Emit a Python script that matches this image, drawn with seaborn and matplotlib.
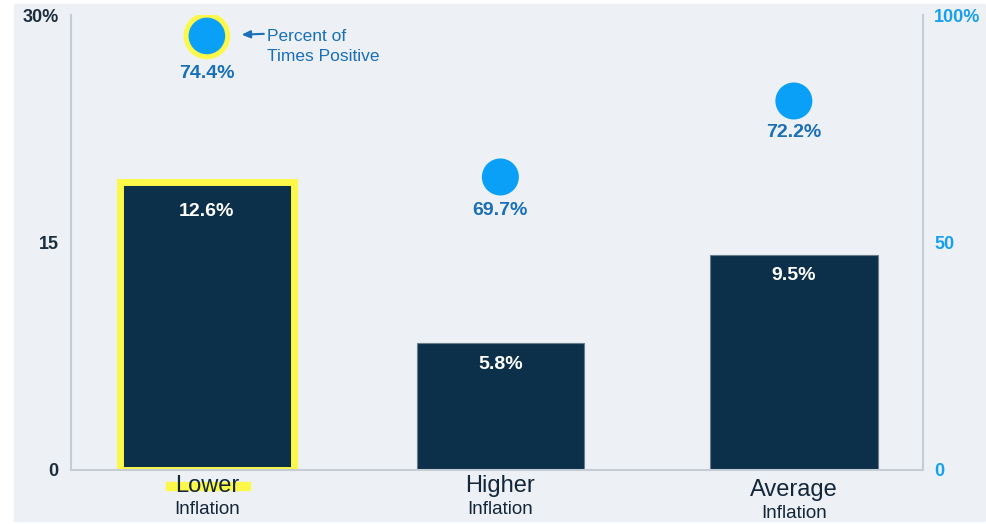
import numpy as np
import pandas as pd
import matplotlib
matplotlib.use("Agg")
import matplotlib.pyplot as plt
from matplotlib.patches import Rectangle
import seaborn as sns

# Data
categories = ["Lower", "Higher", "Average"]
sub_labels = ["Inflation", "Inflation", "Inflation"]
bar_heights = [19.0, 8.4, 14.2]          # left axis, as drawn
bar_labels = ["12.6%", "5.8%", "9.5%"]
pct_positive = [95.4, 64.4, 81.1]        # right axis, as drawn
pct_labels = ["74.4%", "69.7%", "72.2%"]
left_ticks = [0, 15, 30]
left_ticklabels = ["0", "15", "30%"]
right_ticks = [0, 50, 100]
right_ticklabels = ["0", "50", "100%"]

# Colours
BG = "#edf1f5"
NAVY = "#0c2f4a"
DOT = "#0aa0f8"
DOT_TXT = "#1a6fb8"
RIGHT_TXT = "#18a0f0"
LEFT_TXT = "#1c2d3d"
YELLOW = "#fbf84a"
SPINE = "#c5ccd3"

sns.set_style("white")
plt.rcParams["font.family"] = ["Liberation Sans", "DejaVu Sans"]

fig = plt.figure(figsize=(9.87, 5.24), dpi=100)
fig.patch.set_facecolor("white")
fig.patches.append(Rectangle((14 / 987, 3 / 524), 971 / 987, 517 / 524,
                             transform=fig.transFigure, color=BG, zorder=-10))

ax = fig.add_axes([71 / 987, 1 - 470 / 524, 852 / 987, 455 / 524])
ax.set_facecolor("none")

df = pd.DataFrame({"cat": categories, "height": bar_heights})
sns.barplot(data=df, x="cat", y="height", color=NAVY, saturation=1,
            width=0.57, edgecolor="#6b7c8c", linewidth=0.8, ax=ax)

# yellow highlight on the first bar
p = ax.patches[0]
p.set_x(-0.2965)
p.set_width(0.593)
p.set_edgecolor(YELLOW)
p.set_linewidth(5)

ax.set_xlim(-0.463, 2.44)
ax.set_ylim(0, 30)
ax.set_yticks(left_ticks)
ax.set_yticklabels(left_ticklabels)
ax.set_xticks([])
ax.set_xlabel("")
ax.set_ylabel("")
ax.tick_params(axis="y", length=0, pad=9, labelsize=13, labelcolor=LEFT_TXT)
for t in ax.get_yticklabels():
    t.set_fontweight("bold")
for s in ["top", "right"]:
    ax.spines[s].set_visible(False)
for s in ["left", "bottom"]:
    ax.spines[s].set_color(SPINE)
    ax.spines[s].set_linewidth(1.5)

label_offsets = [-21, -16, -15]
for i, (h, lab) in enumerate(zip(bar_heights, bar_labels)):
    ax.annotate(lab, (i, h), xytext=(0, label_offsets[i]),
                textcoords="offset points", ha="center", va="center",
                color="white", fontsize=14, fontweight="bold")

# category labels under the axis
xtrans = ax.get_xaxis_transform()
ax.add_patch(Rectangle((-0.14, -0.044), 0.287, 0.018, transform=xtrans,
                       color=YELLOW, clip_on=False, zorder=1))
cat_y = [-0.035, -0.035, -0.044]
sub_y = [-0.086, -0.086, -0.095]
for i, (c, s) in enumerate(zip(categories, sub_labels)):
    ax.text(i, cat_y[i], c, transform=xtrans, ha="center", va="center",
            fontsize=17, color="#13263a", zorder=2)
    ax.text(i, sub_y[i], s, transform=xtrans, ha="center", va="center",
            fontsize=13.5, color="#13263a")

# right axis with the dots
ax2 = ax.twinx()
ax2.set_ylim(0, 100)
dots = pd.DataFrame({"x": np.arange(len(categories)), "y": pct_positive})
sns.scatterplot(data=dots, x="x", y="y", color=DOT, s=710, linewidth=0,
                ax=ax2, zorder=5, legend=False)
coll = ax2.collections[0]
coll.set_sizes([900, 710, 710])
coll.set_edgecolors([YELLOW, DOT, DOT])
coll.set_linewidths([3.6, 0, 0])

dot_offsets = [-27, -24, -23]
for i, (v, lab) in enumerate(zip(pct_positive, pct_labels)):
    ax2.annotate(lab, (i, v), xytext=(0, dot_offsets[i]),
                 textcoords="offset points", ha="center", va="center",
                 color=DOT_TXT, fontsize=14, fontweight="bold")

ax2.annotate("", xy=(0, pct_positive[0]), xytext=(41, 1.5),
             textcoords="offset points",
             arrowprops=dict(arrowstyle="-|>,head_length=0.5,head_width=0.22",
                             color=DOT_TXT, lw=1.5, shrinkA=0, shrinkB=25))
ax2.annotate("Percent of\nTimes Positive", (0, pct_positive[0]),
             xytext=(43, 5), textcoords="offset points", ha="left", va="top",
             color=DOT_TXT, fontsize=12.5, linespacing=1.45)

ax2.set_xlim(-0.463, 2.44)
ax2.set_yticks(right_ticks)
ax2.set_yticklabels(right_ticklabels)
ax2.set_xlabel("")
ax2.set_ylabel("")
ax2.tick_params(axis="y", length=0, pad=8, labelsize=13, labelcolor=RIGHT_TXT)
for t in ax2.get_yticklabels():
    t.set_fontweight("bold")
for s in ["top", "left", "bottom"]:
    ax2.spines[s].set_visible(False)
ax2.spines["right"].set_color(SPINE)
ax2.spines["right"].set_linewidth(1.5)

fig.savefig("out.png", dpi=100, facecolor=fig.get_facecolor())
